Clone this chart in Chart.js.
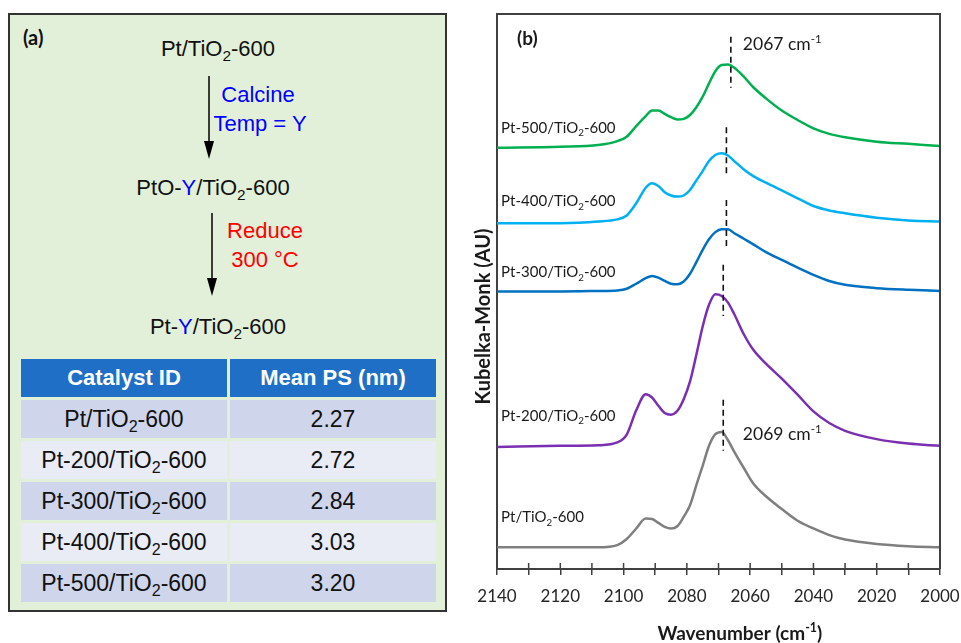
<!DOCTYPE html>
<html lang="en">

<head>
    <meta charset="UTF-8">
    <title>Pt/TiO2-600 CO DRIFTS</title>
    <style>
        body { margin: 0; width: 961px; height: 643px; background: #fff; position: relative; overflow: hidden; font-family: "Liberation Sans", Arial, sans-serif; }
        .panel { position: absolute; left: 8px; top: 13px; width: 439px; height: 599px; box-sizing: border-box; border: 2px solid #333; background: #e2f0d9; }
        .c { position: absolute; width: 260px; text-align: center; font-size: 22px; line-height: 24px; color: #111; white-space: nowrap; }
        .tag { position: absolute; font-family: Lato, sans-serif; font-weight: bold; font-size: 20px; line-height: 22px; color: #111; }
        sub { font-size: 0.7em; vertical-align: -0.3em; line-height: 0; }
        .blue { color: #0000ff; }
        .red { color: #ff0000; }
        #psTable { position: absolute; left: 18px; top: 356px; border-spacing: 3px; table-layout: fixed; width: 421px; }
        #psTable td, #psTable th { width: 206px; height: 38px; padding: 0; text-align: center; line-height: 24px; }
        #psTable th { background: #1f6fc6; color: #fff; font-size: 22px; font-weight: bold; }
        #psTable td { font-size: 23px; color: #111; }
        #psTable tr.odd td { background: #cfd5ea; }
        #psTable tr.even td { background: #e9ebf5; }
        #chartB { position: absolute; left: 450px; top: 0; }
    </style>
</head>

<body>
    <!-- (a) scheme + table -->
    <div class="panel"></div>
    <div class="tag" style="left:23px;top:26px">(a)</div>
    <div class="c" style="left:88px;top:37px">Pt/TiO<sub>2</sub>-600</div>
    <div class="c blue" style="left:128px;top:83px">Calcine</div>
    <div class="c blue" style="left:130px;top:112px">Temp = Y</div>
    <div class="c" style="left:83px;top:176px">PtO-<span class="blue">Y</span>/TiO<sub>2</sub>-600</div>
    <div class="c red" style="left:135px;top:219px">Reduce</div>
    <div class="c red" style="left:135px;top:248px">300 °C</div>
    <div class="c" style="left:88px;top:315px">Pt-<span class="blue">Y</span>/TiO<sub>2</sub>-600</div>
    <svg width="450" height="360" style="position:absolute;left:0;top:0">
        <line x1="209" y1="76" x2="209" y2="145" stroke="#000" stroke-width="1.5" />
        <polygon points="204,141 214,141 209,159" fill="#000" />
        <line x1="212" y1="213" x2="212" y2="282" stroke="#000" stroke-width="1.5" />
        <polygon points="207,278 217,278 212,296" fill="#000" />
    </svg>
    <table id="psTable"></table>

    <!-- (b) spectra -->
    <canvas id="chartB" width="511" height="643"></canvas>
</body>
<script src="https://cdn.jsdelivr.net/npm/chart.js"></script>
<script>
    // table data
    var catalystIds = ['Pt/TiO2-600', 'Pt-200/TiO2-600', 'Pt-300/TiO2-600', 'Pt-400/TiO2-600', 'Pt-500/TiO2-600'];
    var meanPS = ['2.27', '2.72', '2.84', '3.03', '3.20'];

    // spectra (Kubelka-Monk, arbitrary units, already offset)
    var wavenumbers = [2140, 2120, 2108, 2102, 2099, 2096, 2093, 2091, 2089, 2087, 2085, 2083, 2081, 2079, 2077, 2075,
        2073, 2071, 2069, 2067, 2065, 2062, 2059, 2055, 2050, 2045, 2040, 2035, 2030, 2020, 2010, 2000];
    var ptTiO2 = [3.9, 3.9, 3.9, 4.3, 5.4, 7.3, 9.1, 9.0, 8.3, 7.6, 7.3, 7.7, 9.4, 11.5, 15.1, 18.6,
        22.2, 24.3, 24.7, 23.2, 21.1, 18.2, 15.4, 13.1, 10.8, 8.7, 7.3, 6.1, 5.3, 4.5, 4.1, 3.9];
    var pt200 = [22.0, 22.2, 22.3, 22.8, 24.2, 28.6, 31.5, 30.9, 29.4, 28.1, 27.8, 28.5, 30.6, 33.8, 38.6, 43.7,
        47.6, 49.5, 49.2, 48.0, 45.9, 42.3, 39.5, 37.0, 34.3, 31.4, 28.4, 26.3, 24.9, 23.4, 22.6, 22.2];
    var pt300 = [50.0, 50.0, 50.1, 50.2, 50.5, 51.4, 52.4, 52.8, 52.5, 51.9, 51.4, 51.3, 51.8, 53.2, 55.3, 57.5,
        59.4, 60.7, 61.2, 61.2, 60.5, 59.5, 58.5, 57.1, 55.7, 54.3, 53.0, 51.9, 51.2, 50.6, 50.3, 50.1];
    var pt400 = [62.3, 62.3, 62.6, 63.0, 63.7, 65.9, 68.7, 69.5, 69.0, 67.9, 67.3, 67.1, 67.3, 68.3, 70.0, 71.7,
        73.5, 74.6, 74.9, 74.5, 73.5, 72.0, 70.8, 69.6, 68.2, 66.8, 65.4, 64.6, 64.1, 63.3, 62.8, 62.6];
    var pt500 = [75.9, 76.1, 76.4, 77.1, 77.9, 79.8, 81.6, 82.6, 82.6, 82.0, 81.4, 81.0, 81.1, 81.8, 83.2, 85.1,
        87.5, 89.7, 90.8, 90.9, 90.3, 88.7, 86.8, 84.8, 82.6, 80.9, 79.4, 78.4, 77.8, 77.0, 76.6, 76.2];

    var seriesNames = ['Pt/TiO2-600', 'Pt-200/TiO2-600', 'Pt-300/TiO2-600', 'Pt-400/TiO2-600', 'Pt-500/TiO2-600'];
    var seriesValues = [ptTiO2, pt200, pt300, pt400, pt500];
    var seriesColors = ['#7f7f7f', '#7a2fb0', '#0070c0', '#00b0f0', '#00b050'];
    var nameLevels = [9.4, 27.7, 53.5, 66.3, 79.5];   // y where each name sits
    var nameWavenumber = 2138.7;

    // dashed peak markers
    var markerWavenumbers = [2068.5, 2068.5, 2067.5, 2067.5, 2066.1];
    var markerTop = [30.5, 54.8, 66.5, 79.6, 95.9];
    var markerBottom = [21.3, 45.6, 57.5, 70.6, 86.7];
    var peakTexts = ['2069', '2067'];
    var peakTextPos = [[2062.3, 24.4], [2062.3, 94.6]];

    var xMin = 2000, xMax = 2140, xStep = 10, xLabelStep = 20;

    // build table
    var html = '<tr><th>Catalyst ID</th><th>Mean PS (nm)</th></tr>';
    catalystIds.forEach(function (id, i) {
        html += '<tr class="' + (i % 2 == 0 ? 'odd' : 'even') + '"><td>' + id.replace('TiO2', 'TiO<sub>2</sub>') + '</td><td>' + meanPS[i] + '</td></tr>';
    });
    document.getElementById('psTable').innerHTML = html;

    // text with sub / superscripts, y = middle of capitals
    function drawRich(ctx, parts, x, y, size, bold, align) {
        var f = function (s) { return (bold ? 'bold ' : '') + s + 'px Lato, sans-serif'; };
        var w = 0;
        parts.forEach(function (p) {
            ctx.font = f(p[1] ? size * 0.65 : size);
            w += ctx.measureText(p[0]).width;
        });
        var cx = align == 'center' ? x - w / 2 : x;
        var base = y + size * 0.36;
        ctx.textAlign = 'left';
        ctx.textBaseline = 'alphabetic';
        parts.forEach(function (p) {
            var s = p[1] ? size * 0.65 : size;
            var dy = p[1] == 'sub' ? size * 0.22 : (p[1] == 'sup' ? -size * 0.42 : 0);
            ctx.font = f(s);
            ctx.fillText(p[0], cx, base + dy);
            cx += ctx.measureText(p[0]).width;
        });
    }

    function splitTiO2(name) {
        var i = name.indexOf('TiO2');
        return [[name.substring(0, i + 3)], ['2', 'sub'], [name.substring(i + 4)]];
    }

    var annot = {
        id: 'annot',
        afterDraw: function (chart) {
            var ctx = chart.ctx, a = chart.chartArea;
            var xs = chart.scales.x, ys = chart.scales.y;
            ctx.save();
            // frame top / right
            ctx.strokeStyle = '#404040';
            ctx.lineWidth = 2;
            ctx.beginPath();
            ctx.moveTo(a.left, a.top); ctx.lineTo(a.right, a.top); ctx.lineTo(a.right, a.bottom);
            ctx.stroke();
            // inner half of the tick marks
            ctx.lineWidth = 1.5;
            xs.ticks.forEach(function (t) {
                var px = xs.getPixelForValue(t.value);
                ctx.beginPath(); ctx.moveTo(px, a.bottom - 6); ctx.lineTo(px, a.bottom); ctx.stroke();
            });
            // dashed markers
            ctx.strokeStyle = '#111';
            ctx.lineWidth = 1.6;
            ctx.setLineDash([6, 4]);
            markerWavenumbers.forEach(function (w, i) {
                var px = xs.getPixelForValue(w);
                ctx.beginPath();
                ctx.moveTo(px, ys.getPixelForValue(markerTop[i]));
                ctx.lineTo(px, ys.getPixelForValue(markerBottom[i]));
                ctx.stroke();
            });
            ctx.setLineDash([]);
            // texts
            ctx.fillStyle = '#1a1a1a';
            seriesNames.forEach(function (n, i) {
                drawRich(ctx, splitTiO2(n), xs.getPixelForValue(nameWavenumber), ys.getPixelForValue(nameLevels[i]), 15, false, 'left');
            });
            peakTexts.forEach(function (t, i) {
                drawRich(ctx, [[t + ' cm'], ['-1', 'sup']], xs.getPixelForValue(peakTextPos[i][0]), ys.getPixelForValue(peakTextPos[i][1]), 17.5, false, 'left');
            });
            drawRich(ctx, [['(b)']], xs.getPixelForValue(2133.7), ys.getPixelForValue(95.7), 19, true, 'left');
            // x axis title
            drawRich(ctx, [['Wavenumber (cm'], ['-1', 'sup'], [')']], a.left + (a.right - a.left) * 0.548, xs.bottom - 10, 19, true, 'center');
            // y axis title (sits a bit below the middle in the original)
            ctx.save();
            ctx.translate(a.left - 14, a.top + (a.bottom - a.top) * 0.545);
            ctx.rotate(-Math.PI / 2);
            drawRich(ctx, [['Kubelka-Monk (AU)']], 0, 0, 20, true, 'center');
            ctx.restore();
            ctx.restore();
        }
    };

    function drawChart() {
        var datasets = seriesValues.map(function (vals, i) {
            return {
                label: seriesNames[i],
                data: wavenumbers.map(function (w, j) { return { x: w, y: vals[j] }; }),
                borderColor: seriesColors[i],
                borderWidth: 2.5,
                pointRadius: 0,
                fill: false,
                cubicInterpolationMode: 'monotone'
            };
        });

        new Chart(document.getElementById('chartB'), {
            type: 'line',
            data: { datasets: datasets },
            options: {
                responsive: false,
                animation: false,
                devicePixelRatio: 1,
                layout: { padding: { left: 19, right: 21, top: 14, bottom: 0 } },
                plugins: { legend: { display: false }, tooltip: { enabled: false } },
                scales: {
                    x: {
                        type: 'linear', reverse: true, min: xMin, max: xMax,
                        ticks: {
                            stepSize: xStep, autoSkip: false, maxRotation: 0, padding: 11, color: '#262626',
                            font: { family: 'Lato', size: 17 },
                            callback: function (v) { return v % xLabelStep == 0 ? String(v) : ''; }
                        },
                        grid: { display: true, drawOnChartArea: false, drawTicks: true, tickLength: 6, color: '#404040', lineWidth: 1.5 },
                        border: { display: true, color: '#404040', width: 2 },
                        afterFit: function (s) { s.height = 74; s.paddingLeft = 0; s.paddingRight = 0; }
                    },
                    y: {
                        min: 0, max: 100,
                        ticks: { display: false },
                        grid: { display: false },
                        border: { display: true, color: '#404040', width: 2 },
                        afterFit: function (s) { s.width = 28; }
                    }
                }
            },
            plugins: [annot]
        });
    }

    document.fonts.load('16px Lato').then(drawChart, drawChart);
</script>

</html>
